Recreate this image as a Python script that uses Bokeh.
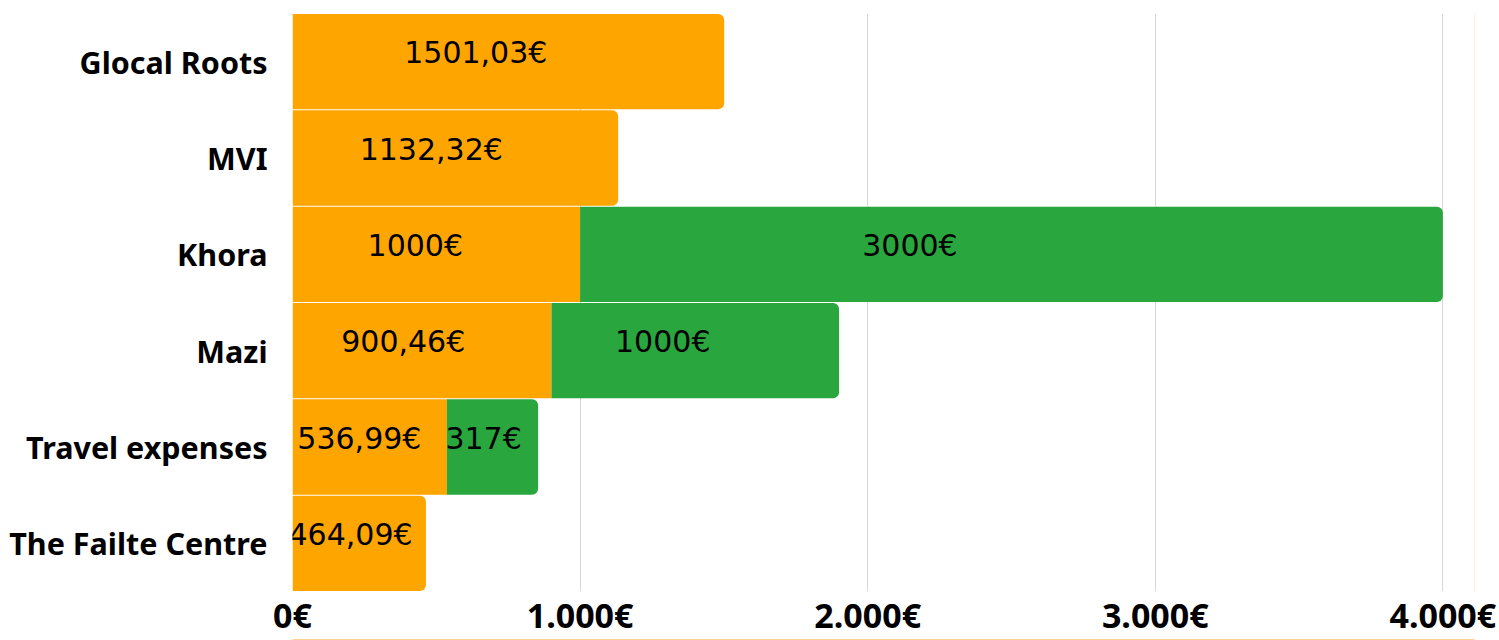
from bokeh.plotting import figure
from bokeh.models import ColumnDataSource, FactorRange, Range1d, FixedTicker, Span, LinearAxis
from bokeh.core.properties import value
from bokeh.embed import file_html
from bokeh.resources import INLINE

categories = ["Glocal Roots", "MVI", "Khora", "Mazi", "Travel expenses", "The Failte Centre"]
orange_vals = [1501.03, 1132.32, 1000, 900.46, 536.99, 464.09]
green_vals = [0, 0, 3000, 1000, 317, 0]
orange_labels = ["1501,03€", "1132,32€", "1000€", "900,46€", "536,99€", "464,09€"]
green_labels = ["", "", "3000€", "1000€", "317€", ""]
x_ticks = [0, 1000, 2000, 3000, 4000]
x_tick_labels = ["0€", "1.000€", "2.000€", "3.000€", "4.000€"]

ORANGE = "#ffa500"
GREEN = "#29a63e"
X_END = 4110

p = figure(width=1499, height=640, output_backend="svg", toolbar_location=None,
           y_range=FactorRange(factors=list(reversed(categories)), range_padding=0),
           x_range=Range1d(0, X_END),
           min_border_left=292, min_border_right=25, min_border_top=13, min_border_bottom=10)
p.outline_line_color = None
p.ygrid.grid_line_color = None
p.xgrid.grid_line_color = "#d6d6d6"
p.xgrid.grid_line_width = 1
p.xgrid.ticker = FixedTicker(ticks=x_ticks[1:])

o_round = dict(y=[], right=[])
o_square = dict(y=[], right=[])
for c, o, g in zip(categories, orange_vals, green_vals):
    (o_square if g > 0 else o_round)["y"].append(c)
    (o_square if g > 0 else o_round)["right"].append(o)
p.hbar(y="y", left=0, right="right", height=0.99, color=ORANGE, line_color=None,
       source=ColumnDataSource(o_square))
p.hbar(y="y", left=0, right="right", height=0.99, color=ORANGE, line_color=None,
       border_radius=(0, 6, 6, 0), source=ColumnDataSource(o_round))

g_src = dict(y=[], left=[], right=[])
for c, o, g in zip(categories, orange_vals, green_vals):
    if g > 0:
        g_src["y"].append(c); g_src["left"].append(o); g_src["right"].append(o + g)
p.hbar(y="y", left="left", right="right", height=0.99, color=GREEN, line_color=None,
       border_radius=(0, 6, 6, 0), source=ColumnDataSource(g_src))

lab = dict(x=[], y=[], t=[])
for c, o, g, ol, gl in zip(categories, orange_vals, green_vals, orange_labels, green_labels):
    lab["x"].append(o * 0.42); lab["y"].append(c); lab["t"].append(ol)
    if g > 0:
        lab["x"].append(o + g * 0.38); lab["y"].append(c); lab["t"].append(gl)
p.text(x="x", y="y", text="t", source=ColumnDataSource(lab), text_align="center",
       text_baseline="middle", y_offset=-9, x_offset=2, text_font=value("DejaVu Sans"),
       text_font_size="30px", text_color="black")

p.add_layout(Span(location=X_END, dimension="height", line_color="#ffe6cc", line_width=1))

for ax in (p.xaxis, p.yaxis):
    ax.axis_line_color = None
    ax.major_tick_line_color = None
    ax.minor_tick_line_color = None
    ax.major_tick_out = 0
    ax.major_tick_in = 0
    ax.major_label_text_font = "Noto Sans"
    ax.major_label_text_font_style = "bold"
    ax.major_label_text_color = "black"
p.yaxis.major_label_text_font_size = "30.5px"
p.xaxis.major_label_text_font_size = "34px"
p.yaxis.major_label_standoff = 25
p.xaxis.ticker = FixedTicker(ticks=x_ticks)
p.xaxis.major_label_overrides = {t: l for t, l in zip(x_ticks, x_tick_labels)}
p.xaxis.major_label_standoff = 0

bottom_line = LinearAxis(ticker=FixedTicker(ticks=[]), axis_line_color="#f6a623", axis_line_width=2,
                         major_tick_out=0, major_tick_in=0, major_label_text_font_size="0px")
p.add_layout(bottom_line, "below")

open("out.html", "w").write(file_html(p, INLINE))
